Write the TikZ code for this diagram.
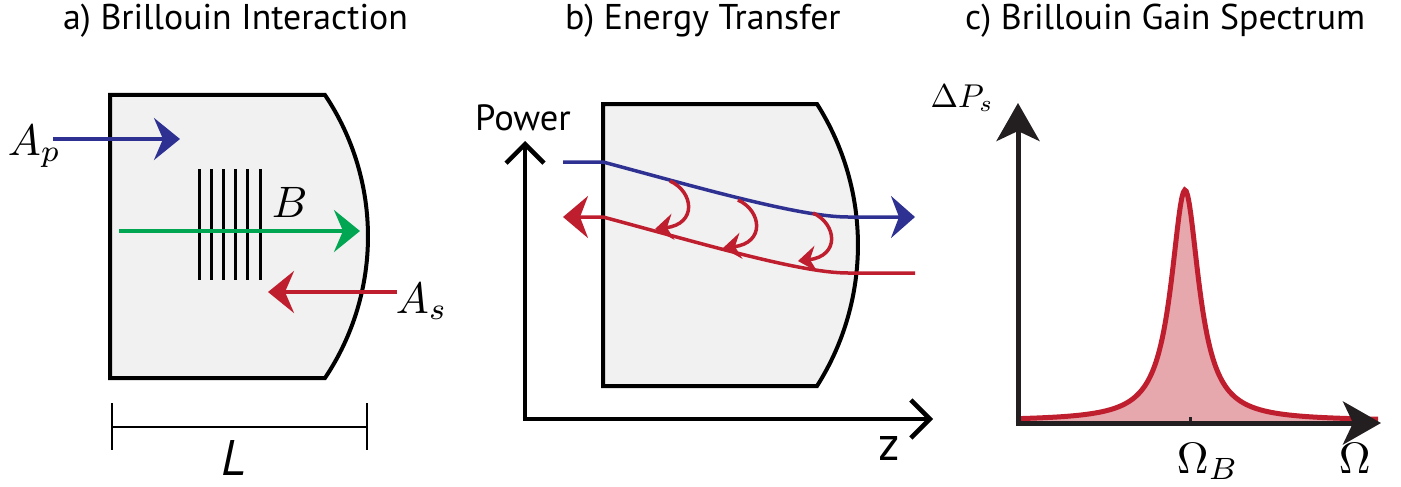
\documentclass[tikz,border=0pt]{standalone}
\usepackage{fontspec}
\setsansfont{PT Sans}
\usetikzlibrary{arrows.meta}
\definecolor{cblue}{HTML}{2E3192}
\definecolor{cgreen}{HTML}{00A651}
\definecolor{cred}{HTML}{BE1E2D}
\definecolor{boxgray}{HTML}{F1F1F1}
\definecolor{cpink}{HTML}{E6A7AD}
\definecolor{cdark}{HTML}{231F20}
\tikzset{
  body/.style={draw=black, line width=4pt, fill=boxgray, line join=miter},
  bigtip/.style={-{Stealth[length=26pt,width=42pt,inset=9pt]}},
  beam/.style={line width=4pt, bigtip},
  grating/.style={line width=3pt, draw=black},
  scalebar/.style={line width=2.5pt, draw=black},
  title/.style={anchor=base west, inner sep=0pt, font=\sffamily\fontsize{35.8}{40}\selectfont},
  mlabel/.style={anchor=base west, inner sep=0pt, scale=4.4},
  trace/.style={line width=3.5pt},
  hop/.style={line width=3.5pt, draw=cred, -{Stealth[length=18pt,width=26pt,inset=6pt]}},
  baxis/.style={line width=4.5pt, draw=black, -{Straight Barb[length=19pt,width=38pt]}},
  caxis/.style={line width=5pt, draw=cdark, -{Stealth[length=38pt,width=43pt,inset=10pt]}},
}
\begin{document}
\begin{tikzpicture}[x=1pt,y=-1pt]
\useasboundingbox (0,0) rectangle (1401,487);

% titles
\node[title] (ta) at (63,30) {a) Brillouin Interaction};
\node[title] (tb) at (565,30) {b) Energy Transfer};
\node[title] (tc) at (965,30) {c) Brillouin Gain Spectrum};

% ---------- panel a ----------
\draw[body] (110,95) -- (325,95) .. controls (382.3,180.6) and (382.3,292.4) .. (325,378) -- (110,378) -- cycle;
\foreach \i in {0,...,5} {
  \draw[grating] (199+12.2*\i,169) -- (199+12.2*\i,280);
}
\coordinate (ap0) at (53,139);
\coordinate (ap1) at (180,139);
\draw[beam, draw=cblue] (ap0) -- (ap1);
\coordinate (b0) at (119,231);
\coordinate (b1) at (360,231);
\draw[beam, draw=cgreen] (b0) -- (b1);
\coordinate (as0) at (397,292);
\coordinate (as1) at (268,292);
\draw[beam, draw=cred] (as0) -- (as1);
\node[mlabel] (lap) at (7,155) {$A_p$};
\node[mlabel] (lb) at (271,217) {$B$};
\node[mlabel] (las) at (395,313) {$A_s$};
\coordinate (sl) at (112,427);
\coordinate (sr) at (367,427);
\draw[scalebar] (sl) -- (sr);
\draw[scalebar] (112,403) -- (112,450);
\draw[scalebar] (367,403) -- (367,450);
\node[anchor=base west, inner sep=0pt, font=\sffamily\itshape\fontsize{50}{56}\selectfont] (ll) at (221,475) {L};

% ---------- panel b ----------
\draw[body] (603,104) -- (817,104) .. controls (871.6,190) and (871.6,300) .. (817,386) -- (603,386) -- cycle;
\coordinate (org) at (525,419);
\coordinate (ytop) at (525,141);
\coordinate (xend) at (933,419);
\draw[baxis] (org) -- (ytop);
\draw[baxis] ([xshift=-2.25pt]org) -- (xend);
\node[anchor=base west, inner sep=0pt, font=\sffamily\fontsize{36.5}{42}\selectfont] (lpow) at (475,130) {Power};
\node[anchor=base west, inner sep=0pt, font=\sffamily\fontsize{48}{54}\selectfont] (lz) at (878,460) {z};
\draw[trace, draw=cblue, -{Stealth[length=24pt,width=42pt,inset=8pt]}]
  (563,162) -- (603,162) .. controls (700,188) and (800,217) .. (848,217) -- (915,217);
\draw[trace, draw=cred, -{Stealth[length=25pt,width=42pt,inset=8pt]}]
  (915,273) -- (848,273) .. controls (800,273) and (700,243) .. (603,217) -- (563,217);
\foreach \dx/\dy in {0/0, 68/19, 143/32} {
  \draw[hop] (670+\dx,181+\dy) .. controls (694+\dx,192+\dy) and (697+\dx,224+\dy) .. (655+\dx,229+\dy);
}

% ---------- panel c ----------
\fill[cpink] plot[samples=240, domain=1020:1378] (\x, {421-231/(1+((\x-1185)/17)^2)}) -- (1378,421) -- (1020,421) -- cycle;
\draw[line width=5pt, draw=cred] plot[samples=240, domain=1020:1378] (\x, {421-231/(1+((\x-1185)/17)^2)});
\coordinate (corg) at (1018,423);
\coordinate (cytop) at (1018,103);
\coordinate (cxend) at (1381,423);
\draw[caxis] ([yshift=2.5pt]corg) -- (cytop);
\draw[caxis] ([xshift=-2.5pt]corg) -- (cxend);
\draw[line width=3pt, draw=cdark] (1190,423) -- (1190,417);
\node[anchor=base west, inner sep=0pt, scale=3.3] (ldp) at (930,107) {$\Delta P_s$};
\node[mlabel] (lob) at (1176,473) {$\Omega_B$};
\node[mlabel] (lo) at (1338,473) {$\Omega$};
\end{tikzpicture}
\end{document}
